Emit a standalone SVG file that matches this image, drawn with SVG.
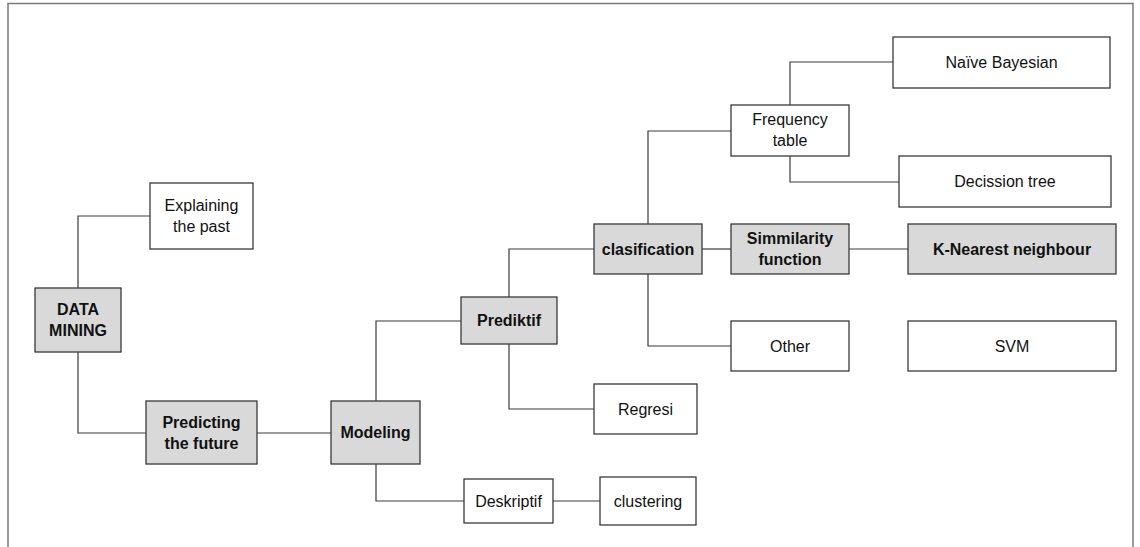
<svg xmlns="http://www.w3.org/2000/svg" width="1140" height="547" viewBox="0 0 1140 547">
<style>
.box{stroke:#3a3a3a;stroke-width:1.3;fill:#fff}
.g{fill:#d9d9d9}
.t{font-family:"Liberation Sans",Arial,sans-serif;font-size:16px;fill:#111;text-anchor:middle}
.b{font-weight:bold}
.c{fill:none;stroke:#3a3a3a;stroke-width:1.2}
.frame{fill:none;stroke:#7a7a7a;stroke-width:1.5}
</style>
<rect width="1140" height="547" fill="#fff"/>
<path class="frame" d="M8,547 V3.5 H1133 V547"/>
<g id="connectors">
<path class="c" d="M150,216 H78 V288"/>
<path class="c" d="M78,352 V433 H146"/>
<path class="c" d="M257,433 H331"/>
<path class="c" d="M376,401 V321 H461"/>
<path class="c" d="M376,464 V501 H464"/>
<path class="c" d="M553,501 H600"/>
<path class="c" d="M509,344 V409 H594"/>
<path class="c" d="M509,297 V249 H594"/>
<path class="c" d="M648,224 V131 H731"/>
<path class="c" d="M702,249 H731"/>
<path class="c" d="M648,274 V346 H731"/>
<path class="c" d="M790,105 V62 H893"/>
<path class="c" d="M790,156 V182 H899"/>
<path class="c" d="M849,249 H908"/>
</g>
<g id="explaining"><rect class="box" x="150" y="183" width="103" height="66"/><text class="t" x="201.5" y="211">Explaining</text><text class="t" x="201.5" y="232">the past</text></g>
<g id="datamining"><rect class="box g" x="35" y="288" width="86" height="64"/><text class="t b" x="78" y="315">DATA</text><text class="t b" x="78" y="336">MINING</text></g>
<g id="predicting"><rect class="box g" x="146" y="401" width="111" height="63"/><text class="t b" x="201.5" y="428">Predicting</text><text class="t b" x="201.5" y="449">the future</text></g>
<g id="modeling"><rect class="box g" x="331" y="401" width="89" height="63"/><text class="t b" x="375.5" y="438">Modeling</text></g>
<g id="prediktif"><rect class="box g" x="461" y="297" width="96" height="47"/><text class="t b" x="509" y="326">Prediktif</text></g>
<g id="regresi"><rect class="box" x="594" y="384" width="103" height="50"/><text class="t" x="645.5" y="415">Regresi</text></g>
<g id="deskriptif"><rect class="box" x="464" y="479" width="89" height="44"/><text class="t" x="508.5" y="507">Deskriptif</text></g>
<g id="clustering"><rect class="box" x="600" y="477" width="96" height="48"/><text class="t" x="648" y="507">clustering</text></g>
<g id="clasification"><rect class="box g" x="594" y="224" width="108" height="50"/><text class="t b" x="648" y="255">clasification</text></g>
<g id="frequency"><rect class="box" x="731" y="105" width="118" height="51"/><text class="t" x="790" y="125">Frequency</text><text class="t" x="790" y="146">table</text></g>
<g id="simmilarity"><rect class="box g" x="731" y="224" width="118" height="50"/><text class="t b" x="790" y="244">Simmilarity</text><text class="t b" x="790" y="265">function</text></g>
<g id="other"><rect class="box" x="731" y="321" width="118" height="50"/><text class="t" x="790" y="352">Other</text></g>
<g id="naive"><rect class="box" x="893" y="37" width="217" height="51"/><text class="t" x="1001.5" y="68">Naïve Bayesian</text></g>
<g id="decission"><rect class="box" x="899" y="156" width="212" height="51"/><text class="t" x="1005" y="187">Decission tree</text></g>
<g id="knn"><rect class="box g" x="908" y="224" width="208" height="50"/><text class="t b" x="1012" y="255">K-Nearest neighbour</text></g>
<g id="svm"><rect class="box" x="908" y="321" width="208" height="50"/><text class="t" x="1012" y="352">SVM</text></g>
</svg>
